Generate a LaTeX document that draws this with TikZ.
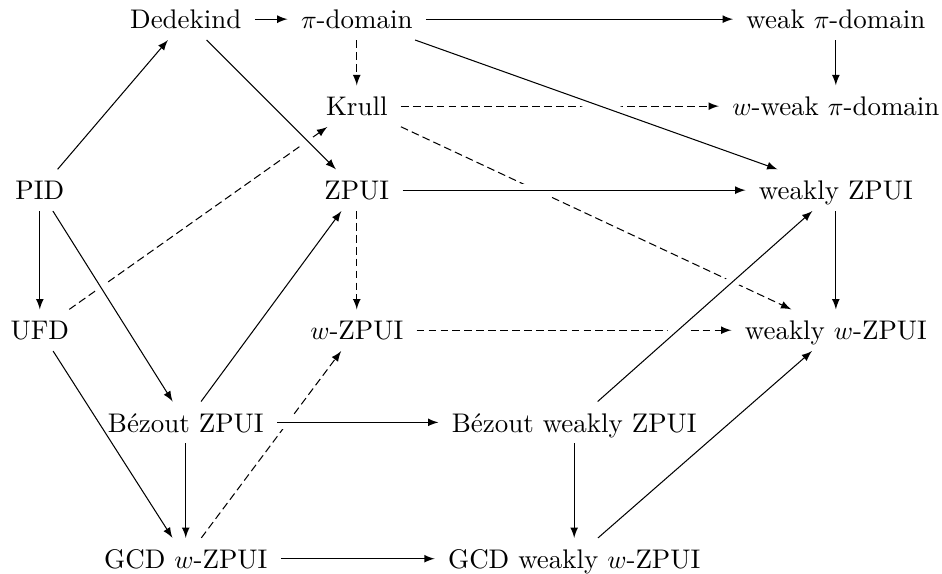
\documentclass[tikz,border=0pt]{standalone}
\usepackage{amsmath}
\usepackage{tikz}
\usetikzlibrary{arrows}
\tikzset{
	ringbox/.style={
		font=\fontsize{10.4pt}{12.5pt}\selectfont,
		inner xsep=5pt,
		inner ysep=3pt,
		text height=2ex,
		text depth=.25ex
	},
	connector/.style={
		-latex
	},
	weak connector/.style={
		connector,
		dash pattern=on 3pt off 1.6pt
	},
	crossing/.style={
		preaction={draw=white, -, line width=5pt}
	}
}

\begin{document}
\begin{tikzpicture}
	\useasboundingbox (0,0) rectangle (12.78,7.78);

	% first column
	\node(PID)[ringbox] at (0.54,5.20) {PID};
	\node(UFD)[ringbox] at (0.54,3.30) {UFD};

	% second column
	\node(Dedekind)[ringbox] at (2.52,7.52) {Dedekind};
	\node(BezoutZPUI)[ringbox] at (2.52,2.05) {B\'ezout ZPUI};
	\node(GCDwZPUI)[ringbox] at (2.52,0.20) {GCD $w$-ZPUI};

	% middle column
	\node(PiDomain)[ringbox] at (4.84,7.52) {$\pi$-domain};
	\node(Krull)[ringbox] at (4.84,6.34) {Krull};
	\node(ZPUI)[ringbox] at (4.84,5.20) {ZPUI};
	\node(wZPUI)[ringbox] at (4.84,3.30) {$w$-ZPUI};

	% fourth column
	\node(BezoutWeakly)[ringbox] at (7.79,2.05) {B\'ezout weakly ZPUI};
	\node(GCDWeakly)[ringbox] at (7.79,0.20) {GCD weakly $w$-ZPUI};

	% last column
	\node(WeakPi)[ringbox] at (11.34,7.52) {weak $\pi$-domain};
	\node(wWeakPi)[ringbox] at (11.34,6.34) {$w$-weak $\pi$-domain};
	\node(WeaklyZPUI)[ringbox] at (11.34,5.20) {weakly ZPUI};
	\node(WeaklywZPUI)[ringbox] at (11.34,3.30) {weakly $w$-ZPUI};

	% dashed implications (drawn first, they pass under the others)
	\draw [weak connector] (PiDomain) -- (Krull);
	\draw [weak connector] (Krull) -- (wWeakPi);
	\draw [weak connector] (Krull) -- (WeaklywZPUI);
	\draw [weak connector] (UFD) -- (Krull);
	\draw [weak connector] (ZPUI) -- (wZPUI);
	\draw [weak connector] (wZPUI) -- (WeaklywZPUI);
	\draw [weak connector] (GCDwZPUI) -- (wZPUI);

	% solid lines crossing over dashed ones
	\draw [connector,crossing] (PiDomain) -- (WeaklyZPUI);
	\draw [connector,crossing] (ZPUI) -- (WeaklyZPUI);
	\draw [connector,crossing] (BezoutWeakly) -- (WeaklyZPUI);
	\draw [connector,crossing] (Dedekind) -- (ZPUI);
	\draw [connector,crossing] (PID) -- (BezoutZPUI);
	\draw [connector,crossing] (BezoutZPUI) -- (BezoutWeakly);

	% remaining solid implications
	\draw [connector] (PID) -- (Dedekind);
	\draw [connector] (PID) -- (UFD);
	\draw [connector] (Dedekind) -- (PiDomain);
	\draw [connector] (PiDomain) -- (WeakPi);
	\draw [connector] (WeakPi) -- (wWeakPi);
	\draw [connector] (WeaklyZPUI) -- (WeaklywZPUI);
	\draw [connector] (UFD) -- (GCDwZPUI);
	\draw [connector] (BezoutZPUI) -- (ZPUI);
	\draw [connector] (BezoutZPUI) -- (GCDwZPUI);
	\draw [connector] (BezoutWeakly) -- (GCDWeakly);
	\draw [connector] (GCDwZPUI) -- (GCDWeakly);
	\draw [connector] (GCDWeakly) -- (WeaklywZPUI);
\end{tikzpicture}
\end{document}
